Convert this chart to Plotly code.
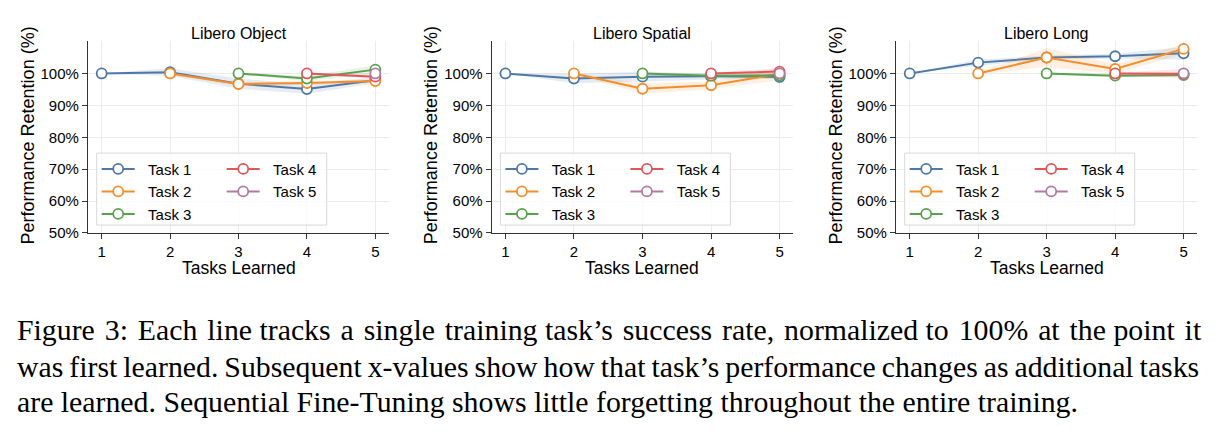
import plotly.graph_objects as go

W, H = 1219, 434

tasks_learned = [1, 2, 3, 4, 5]
task_names = ["Task 1", "Task 2", "Task 3", "Task 4", "Task 5"]
colors = ["#4e79a7", "#f28e2b", "#59a14f", "#e15759", "#b07aa1"]
panel_titles = ["Libero Object", "Libero Spatial", "Libero Long"]
y_ticks = [50, 60, 70, 80, 90, 100]
y_tick_labels = ["50%", "60%", "70%", "80%", "90%", "100%"]

# retention (%) per task, per panel
object_t1 = [100, 100.4, 96.8, 95.1, 97.9]
object_t2 = [None, 100, 96.7, 97.0, 97.6]
object_t3 = [None, None, 100, 98.4, 101.2]
object_t4 = [None, None, None, 100, 99.0]
object_t5 = [None, None, None, None, 100]

spatial_t1 = [100, 98.4, 99.0, 99.1, 98.9]
spatial_t2 = [None, 100, 95.2, 96.3, 99.9]
spatial_t3 = [None, None, 100, 99.3, 99.4]
spatial_t4 = [None, None, None, 100, 100.6]
spatial_t5 = [None, None, None, None, 100]

long_t1 = [100, 103.4, 105.0, 105.4, 106.3]
long_t2 = [None, 100, 105.0, 101.4, 107.7]
long_t3 = [None, None, 100, 99.3, 99.5]
long_t4 = [None, None, None, 100, 99.9]
long_t5 = [None, None, None, None, 100]

# half-width of shaded bands (%)
object_sd = [[0, 1.2, 1.6, 1.5, 1.0], [None, 0.3, 0.6, 0.6, 0.5], [None, None, 0.3, 0.8, 1.4],
             [None, None, None, 0.3, 0.6], [None, None, None, None, 0.3]]
spatial_sd = [[0, 1.5, 1.5, 1.0, 0.6], [None, 0.3, 1.6, 1.2, 2.0], [None, None, 0.3, 0.6, 0.6],
              [None, None, None, 0.3, 1.0], [None, None, None, None, 0.3]]
long_sd = [[0, 1.0, 0.6, 0.8, 2.0], [None, 0.3, 3.0, 1.5, 1.5], [None, None, 0.3, 0.5, 0.5],
           [None, None, None, 0.3, 1.5], [None, None, None, None, 0.3]]

panels = [
    [object_t1, object_t2, object_t3, object_t4, object_t5],
    [spatial_t1, spatial_t2, spatial_t3, spatial_t4, spatial_t5],
    [long_t1, long_t2, long_t3, long_t4, long_t5],
]
panel_sds = [object_sd, spatial_sd, long_sd]

caption_lines = [
    "Figure 3: Each line tracks a single training task\u2019s success rate, normalized to 100% at the point it",
    "was first learned. Subsequent x-values show how that task\u2019s performance changes as additional tasks",
    "are learned. Sequential Fine-Tuning shows little forgetting throughout the entire training.",
]

# layout geometry (pixels)
axis_left = [88, 491.7, 896]
axis_right = [389, 793.3, 1197.3]
plot_top, plot_bottom = 41.7, 237.3

def px(x):
    return x / W

def py(y):
    return 1 - y / H

def rgba(hexc, a):
    h = hexc.lstrip("#")
    return "rgba(%d,%d,%d,%.2f)" % (int(h[0:2], 16), int(h[2:4], 16), int(h[4:6], 16), a)

def justify(line, mode):
    words = line.split(" ")
    if mode == "wide":      # justified line: slightly stretched spaces
        out = words[0]
        for i, w in enumerate(words[1:]):
            out += (" \u200a" if i % 4 != 3 else " ") + w
        return out
    if mode == "narrow":    # justified line: slightly shrunk spaces
        return "\u2009".join(words)
    return line

FONT = "Liberation Sans, Arial, sans-serif"
NB = "\u00a0\u00a0"
fig = go.Figure()

for p in range(3):
    xa = "x" if p == 0 else "x%d" % (p + 1)
    ya = "y" if p == 0 else "y%d" % (p + 1)
    leg_a = "legend" if p == 0 else "legend%d" % (2 * p + 1)
    leg_b = "legend%d" % (2 * p + 2)
    for t in range(5):
        vals = panels[p][t]
        sds = panel_sds[p][t]
        xs = [x for x, v in zip(tasks_learned, vals) if v is not None]
        ys = [v for v in vals if v is not None]
        ss = [s for v, s in zip(vals, sds) if v is not None]
        if len(xs) > 1:
            upper = [v + s for v, s in zip(ys, ss)]
            lower = [v - s for v, s in zip(ys, ss)]
            fig.add_trace(go.Scatter(
                x=xs + xs[::-1], y=upper + lower[::-1], fill="toself",
                fillcolor=rgba(colors[t], 0.14), line=dict(width=0),
                mode="lines", showlegend=False, hoverinfo="skip",
                xaxis=xa, yaxis=ya))
        fig.add_trace(go.Scatter(
            x=xs, y=ys, mode="lines+markers", name=NB + task_names[t],
            line=dict(color=colors[t], width=2),
            marker=dict(size=10, color="white", line=dict(color=colors[t], width=1.8)),
            legend=leg_a if t < 3 else leg_b,
            legendgroup="p%d_t%d" % (p, t),
            xaxis=xa, yaxis=ya))

layout = dict(
    width=W, height=H, margin=dict(l=0, r=0, t=0, b=0),
    paper_bgcolor="white", plot_bgcolor="white",
    font=dict(family=FONT, size=15, color="black"),
    showlegend=True,
)

annotations = []
shapes = []
for p in range(3):
    sfx = "" if p == 0 else str(p + 1)
    common_ax = dict(
        showline=True, linecolor="#333333", linewidth=1.2,
        ticks="outside", ticklen=5, tickwidth=1, tickcolor="#333333",
        showgrid=True, gridcolor="#ececec", gridwidth=1, zeroline=False,
        tickfont=dict(family=FONT, size=15, color="black"),
    )
    layout["xaxis" + sfx] = dict(
        common_ax, domain=[px(axis_left[p]), px(axis_right[p])],
        range=[0.8, 5.2], tickvals=tasks_learned, ticktext=[str(v) for v in tasks_learned],
        anchor="y" + sfx)
    layout["yaxis" + sfx] = dict(
        common_ax, domain=[py(plot_bottom), py(plot_top)],
        range=[50, 110.2], tickvals=y_ticks, ticktext=y_tick_labels,
        anchor="x" + sfx)
    cx = (axis_left[p] + axis_right[p]) / 2
    annotations.append(dict(text=panel_titles[p], x=px(cx), y=py(34), xref="paper", yref="paper",
                            showarrow=False, xanchor="center", yanchor="middle",
                            font=dict(family=FONT, size=16, color="black")))
    annotations.append(dict(text="Tasks Learned", x=px(cx), y=py(273.5), xref="paper", yref="paper",
                            showarrow=False, xanchor="center", yanchor="middle",
                            font=dict(family=FONT, size=17.5, color="black")))
    annotations.append(dict(text="Performance Retention (%)", x=px(axis_left[p] - 60), y=py(138),
                            xref="paper", yref="paper", textangle=-90,
                            showarrow=False, xanchor="center", yanchor="middle",
                            font=dict(family=FONT, size=18, color="black")))
    # legend frame
    bl = axis_left[p] + 8.7
    shapes.append(dict(type="rect", xref="paper", yref="paper",
                       x0=px(bl), x1=px(bl + 230), y0=py(229.3), y1=py(156),
                       line=dict(color="#d9d9d9", width=1), fillcolor="rgba(255,255,255,0.8)",
                       layer="above"))
    leg_common = dict(bgcolor="rgba(0,0,0,0)", borderwidth=0, xref="paper", yref="paper",
                      xanchor="left", yanchor="top", tracegroupgap=0, itemwidth=33,
                      font=dict(family=FONT, size=15, color="black"), orientation="v")
    la = "legend" if p == 0 else "legend%d" % (2 * p + 1)
    lb = "legend%d" % (2 * p + 2)
    layout[la] = dict(leg_common, x=px(bl), y=py(155.5))
    layout[lb] = dict(leg_common, x=px(bl + 125), y=py(155.5))

caption_modes = ["wide", "narrow", "plain"]
for i, line in enumerate(caption_lines):
    annotations.append(dict(text=justify(line, caption_modes[i]), x=px(15),
                            y=py([336, 373, 409][i]), xref="paper", yref="paper",
                            showarrow=False, xanchor="left", yanchor="middle",
                            font=dict(family="Liberation Serif, Times New Roman, serif", size=29.8,
                                      color="black")))

layout["annotations"] = annotations
layout["shapes"] = shapes
fig.update_layout(**layout)
fig.write_html("out.html")
